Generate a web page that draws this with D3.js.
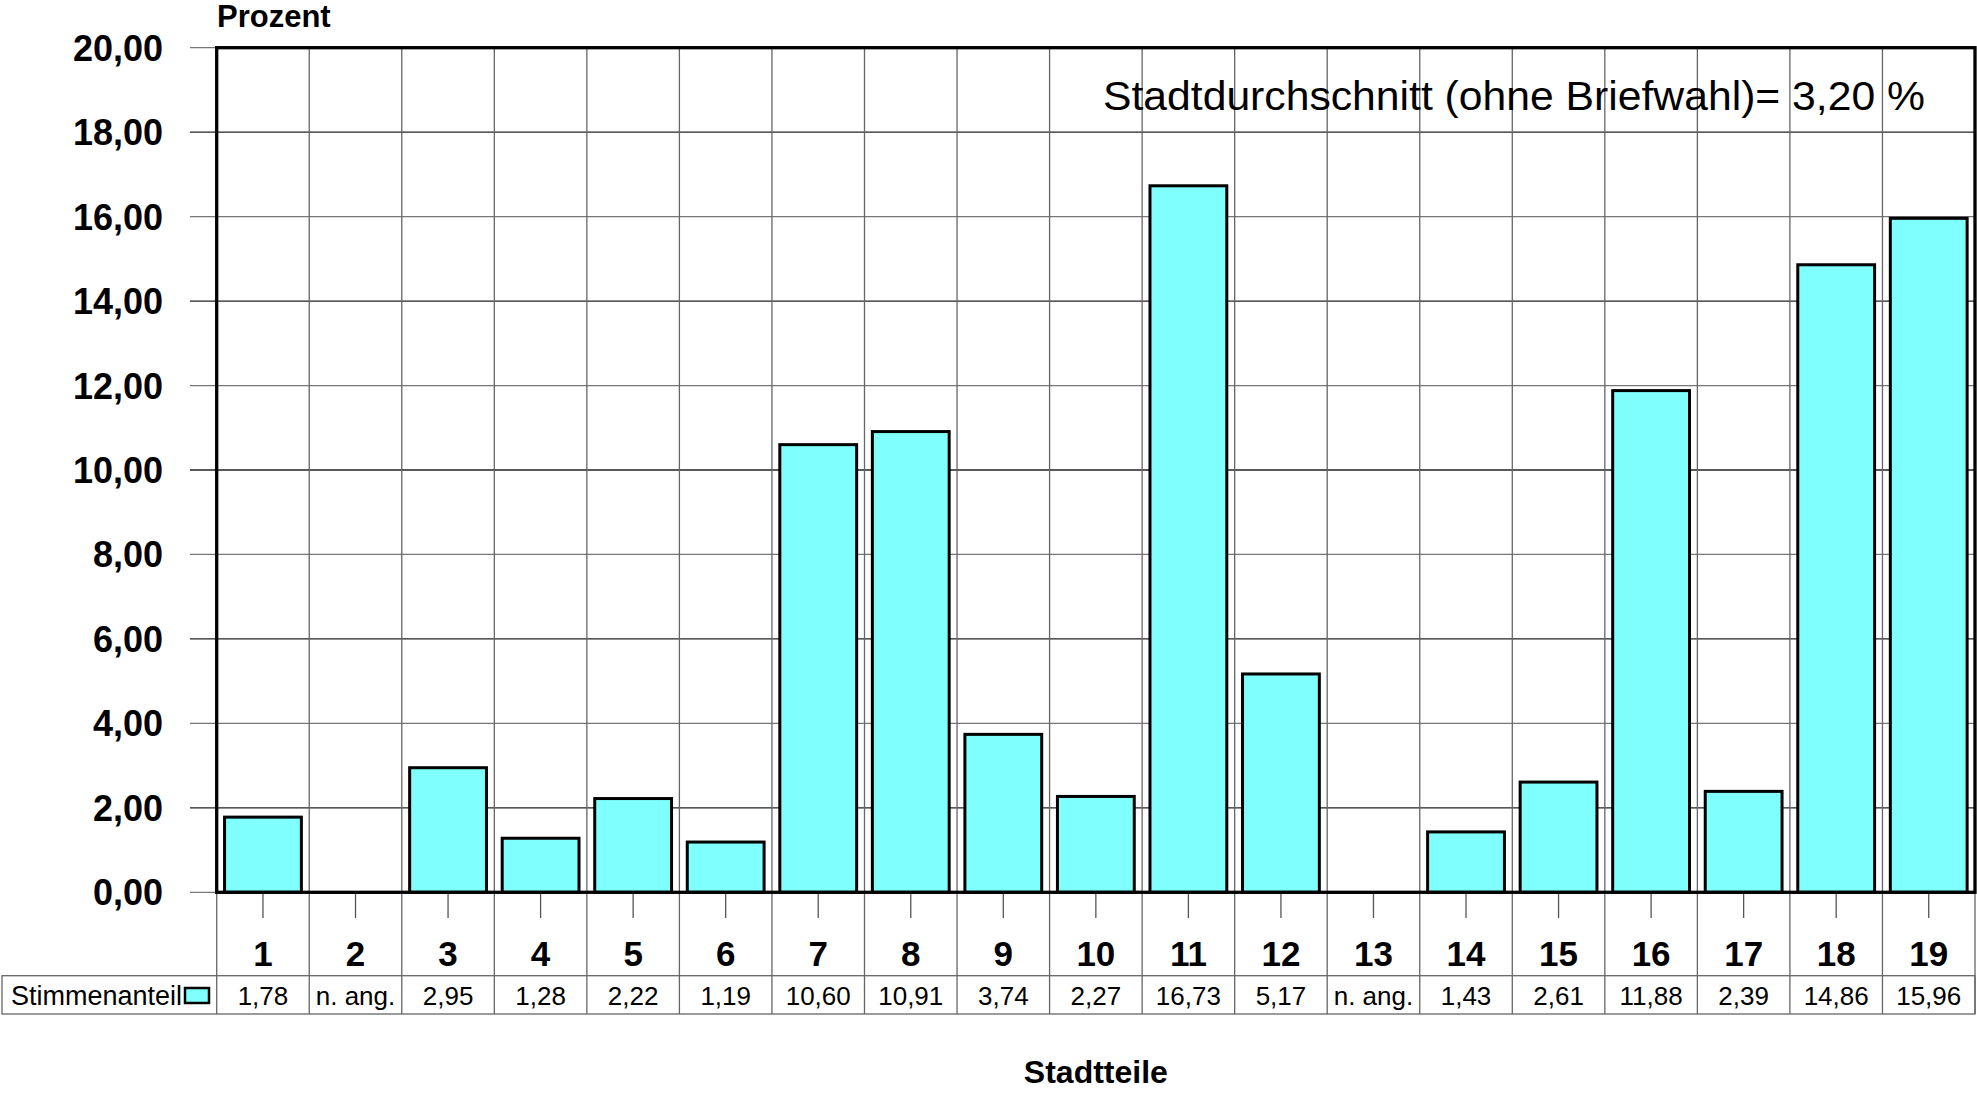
<!DOCTYPE html>
<html>
<head>
<meta charset="utf-8">
<script src="https://cdn.jsdelivr.net/npm/d3@7"></script>
<style>
  body { margin: 0; background: #fff; }
  text { font-family: "Liberation Sans", Arial, sans-serif; fill: #000; }
</style>
</head>
<body>
<svg width="1977" height="1095"></svg>
<script>
// data
const stadtteile = ["1","2","3","4","5","6","7","8","9","10","11","12","13","14","15","16","17","18","19"];
const stimmenanteil = [1.78, null, 2.95, 1.28, 2.22, 1.19, 10.60, 10.91, 3.74, 2.27, 16.73, 5.17, null, 1.43, 2.61, 11.88, 2.39, 14.86, 15.96];
const yTicks = [0, 2, 4, 6, 8, 10, 12, 14, 16, 18, 20];
const seriesName = "Stimmenanteil";
const missingLabel = "n. ang.";
const stadtDurchschnitt = 3.20;

const de = d3.formatLocale({ decimal: ",", thousands: ".", grouping: [3], currency: ["", " €"] });
const fmt = de.format(".2f");

let svg = d3.select("svg");
let plotLeft = 216.7, plotRight = 1975, plotTop = 47.7, plotBottom = 892.3;
let rowTop = 975.7, rowBottom = 1014;

let x = d3.scaleBand()
  .domain(stadtteile)
  .range([plotLeft, plotRight])
  .paddingInner(0.17)
  .paddingOuter(0.085);
let step = x.step();
let cellLeft = d => x(d) - step * 0.085;

let y = d3.scaleLinear().domain([0, 20]).range([plotBottom, plotTop]);

let data = stadtteile.map((d, i) => ({ cat: d, value: stimmenanteil[i] }));

// horizontal grid
svg.append("g")
  .selectAll("line")
  .data(yTicks)
  .enter()
  .append("line")
  .attr("x1", 190)
  .attr("x2", plotRight)
  .attr("y1", d => y(d))
  .attr("y2", d => y(d))
  .attr("stroke", (d, i) => i % 2 ? "#222" : "#777")
  .attr("stroke-width", 1.3);

// vertical grid inside plot
svg.append("g")
  .selectAll("line")
  .data(stadtteile.slice(1))
  .enter()
  .append("line")
  .attr("x1", d => cellLeft(d))
  .attr("x2", d => cellLeft(d))
  .attr("y1", plotTop)
  .attr("y2", plotBottom)
  .attr("stroke", "#666")
  .attr("stroke-width", 1.3);

// cell dividers under the plot (category labels + table row)
svg.append("g")
  .selectAll("line")
  .data(stadtteile)
  .enter()
  .append("line")
  .attr("x1", d => cellLeft(d))
  .attr("x2", d => cellLeft(d))
  .attr("y1", plotBottom)
  .attr("y2", rowBottom)
  .attr("stroke", "#666")
  .attr("stroke-width", 1.3);

svg.append("line")
  .attr("x1", plotRight).attr("x2", plotRight)
  .attr("y1", plotBottom).attr("y2", rowBottom)
  .attr("stroke", "#666").attr("stroke-width", 1.3);

// x ticks
svg.append("g")
  .selectAll("line")
  .data(stadtteile)
  .enter()
  .append("line")
  .attr("x1", d => x(d) + x.bandwidth() / 2)
  .attr("x2", d => x(d) + x.bandwidth() / 2)
  .attr("y1", plotBottom)
  .attr("y2", 918)
  .attr("stroke", "#555")
  .attr("stroke-width", 1.3);

// bars
svg.append("g")
  .selectAll("rect")
  .data(data.filter(d => d.value != null))
  .enter()
  .append("rect")
  .attr("x", d => x(d.cat))
  .attr("y", d => y(d.value))
  .attr("width", x.bandwidth())
  .attr("height", d => y(0) - y(d.value))
  .attr("fill", "#80FFFF")
  .attr("stroke", "#000")
  .attr("stroke-width", 3);

// plot frame
svg.append("rect")
  .attr("x", plotLeft)
  .attr("y", plotTop)
  .attr("width", plotRight - plotLeft)
  .attr("height", plotBottom - plotTop)
  .attr("fill", "none")
  .attr("stroke", "#000")
  .attr("stroke-width", 3.3);

// y labels
svg.append("g")
  .selectAll("text")
  .data(yTicks)
  .enter()
  .append("text")
  .attr("x", 163)
  .attr("y", d => y(d))
  .attr("dy", "0.36em")
  .attr("text-anchor", "end")
  .style("font-size", "36px")
  .style("font-weight", "bold")
  .text(d => fmt(d));

svg.append("text")
  .attr("x", 217)
  .attr("y", 27)
  .style("font-size", "31px")
  .style("font-weight", "bold")
  .text("Prozent");

// category labels
svg.append("g")
  .selectAll("text")
  .data(stadtteile)
  .enter()
  .append("text")
  .attr("x", d => x(d) + x.bandwidth() / 2)
  .attr("y", 966)
  .attr("text-anchor", "middle")
  .style("font-size", "35px")
  .style("font-weight", "bold")
  .text(d => d);

// data table row
svg.append("rect")
  .attr("x", 2)
  .attr("y", rowTop)
  .attr("width", plotRight - 2)
  .attr("height", rowBottom - rowTop)
  .attr("fill", "none")
  .attr("stroke", "#666")
  .attr("stroke-width", 1.3);

svg.append("text")
  .attr("x", 11)
  .attr("y", 1005)
  .style("font-size", "27px")
  .text(seriesName);

svg.append("rect")
  .attr("x", 185)
  .attr("y", 988)
  .attr("width", 24)
  .attr("height", 15)
  .attr("fill", "#80FFFF")
  .attr("stroke", "#000")
  .attr("stroke-width", 2.5);

svg.append("g")
  .selectAll("text")
  .data(data)
  .enter()
  .append("text")
  .attr("x", d => x(d.cat) + x.bandwidth() / 2)
  .attr("y", 1005)
  .attr("text-anchor", "middle")
  .style("font-size", "26px")
  .text(d => d.value == null ? missingLabel : fmt(d.value));

// annotation
svg.append("text")
  .attr("x", 1103)
  .attr("y", 110)
  .attr("textLength", 822)
  .attr("lengthAdjust", "spacingAndGlyphs")
  .style("font-size", "41px")
  .text("Stadtdurchschnitt (ohne Briefwahl)= " + fmt(stadtDurchschnitt) + " %");

svg.append("text")
  .attr("x", (plotLeft + plotRight) / 2)
  .attr("y", 1083)
  .attr("text-anchor", "middle")
  .style("font-size", "32px")
  .style("font-weight", "bold")
  .text("Stadtteile");
</script>
</body>
</html>
